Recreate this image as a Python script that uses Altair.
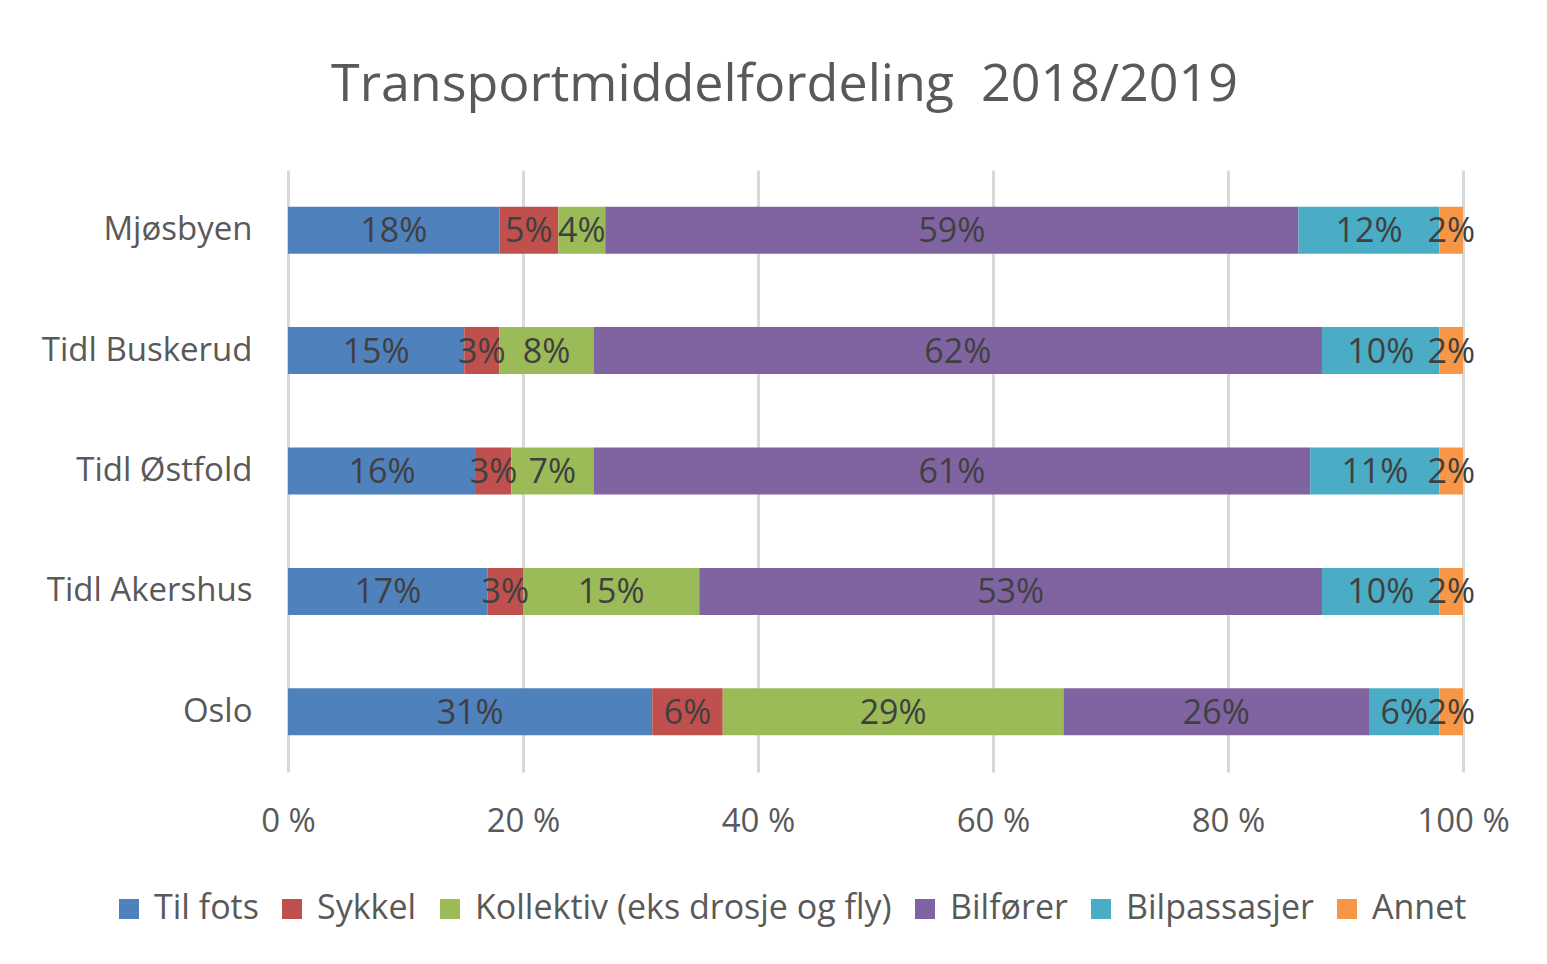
import altair as alt
import pandas as pd

regions = ["Mjøsbyen", "Tidl Buskerud", "Tidl Østfold", "Tidl Akershus", "Oslo"]
modes = ["Til fots", "Sykkel", "Kollektiv (eks drosje og fly)", "Bilfører", "Bilpassasjer", "Annet"]
colors = ["#4F81BD", "#C0504D", "#9BBB59", "#8064A2", "#4BACC6", "#F79646"]

til_fots = [18, 15, 16, 17, 31]
sykkel = [5, 3, 3, 3, 6]
kollektiv = [4, 8, 7, 15, 29]
bilforer = [59, 62, 61, 53, 26]
bilpassasjer = [12, 10, 11, 10, 6]
annet = [2, 2, 2, 2, 2]
x_ticks = [0, 20, 40, 60, 80, 100]

series = [til_fots, sykkel, kollektiv, bilforer, bilpassasjer, annet]
rows = []
for mi, (m, vals) in enumerate(zip(modes, series)):
    for r, v in zip(regions, vals):
        rows.append({"region": r, "mode": m, "order": mi, "value": v})
df = pd.DataFrame(rows)

FONT = "Open Sans"

base = alt.Chart(df).transform_stack(
    stack="value", groupby=["region"], as_=["x0", "x1"],
    sort=[alt.SortField("order", order="ascending")]
).transform_calculate(
    mid="(datum.x0 + datum.x1) / 2",
    lab="datum.value + '%'"
)

y_enc = alt.Y("region:N", sort=regions, title=None,
              scale=alt.Scale(paddingInner=0.61, paddingOuter=0.305),
              axis=alt.Axis(domain=False, ticks=False, labelFontSize=33, labelFont=FONT,
                            labelColor="#595959", labelPadding=36, labelLimit=400, grid=False))

bars = base.mark_bar(size=47).encode(
    x=alt.X("x0:Q", title=None, scale=alt.Scale(domain=[0, 100], nice=False),
            axis=alt.Axis(values=x_ticks, labelExpr="datum.value + ' %'", domain=False, ticks=False,
                          grid=True, gridColor="#D9D9D9", gridWidth=3, labelFlush=False,
                          labelFontSize=33, labelFont=FONT, labelColor="#595959",
                          labelPadding=33)),
    x2="x1:Q",
    y=y_enc,
    color=alt.Color("mode:N", sort=modes, scale=alt.Scale(domain=modes, range=colors),
                    legend=alt.Legend(title=None, orient="none", direction="horizontal",
                                      legendX=-176, legendY=722,
                                      symbolType="square", symbolSize=400, symbolStrokeWidth=0,
                                      labelFontSize=34, labelFont=FONT, labelColor="#595959",
                                      labelLimit=0, labelOffset=8, columnPadding=16, columns=6)),
    order=alt.Order("order:Q"),
)

labels = base.mark_text(fontSize=34, font=FONT, color="#404040", baseline="middle", align="center",
                        dy=2).encode(
    x=alt.X("mid:Q"),
    y=alt.Y("region:N", sort=regions),
    text="lab:N",
)

chart = alt.layer(bars, labels).properties(
    width=1175, height=602,
    background="white",
    title=alt.TitleParams("Transportmiddelfordeling\u00a0 2018/2019", fontSize=52, font=FONT,
                          color="#595959", fontWeight="normal", offset=58, dx=-91),
    autosize=alt.AutoSizeParams(type="none"),
    padding={"left": 280, "top": 162, "right": 76, "bottom": 180},
).configure_view(strokeWidth=0)

chart.save("out.html", embed_options={"renderer": "svg", "actions": False})
